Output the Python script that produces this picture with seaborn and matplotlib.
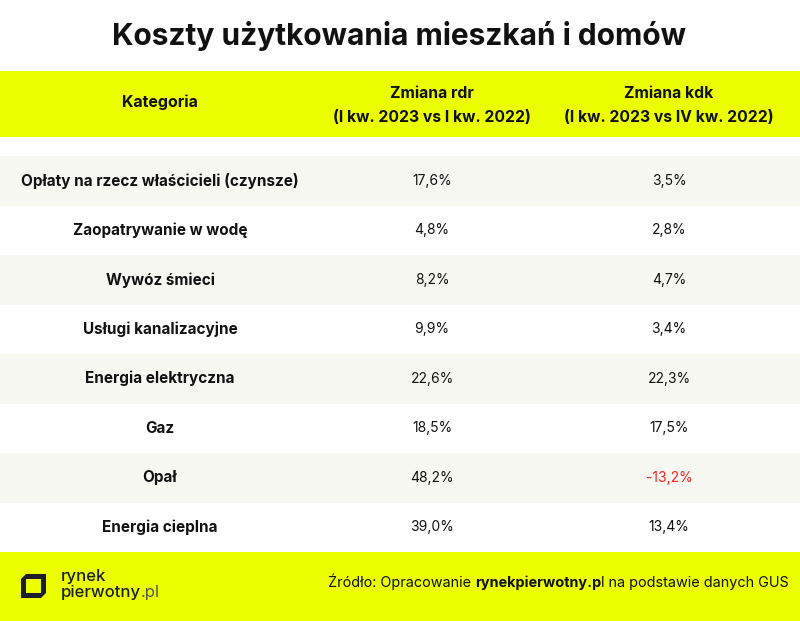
import numpy as np
import pandas as pd
import seaborn as sns
import matplotlib.pyplot as plt
from matplotlib.colors import ListedColormap
from matplotlib.patches import Rectangle, Polygon

# data
title = 'Koszty użytkowania mieszkań i domów'
header = ['Kategoria', 'Zmiana rdr\n(I kw. 2023 vs I kw. 2022)',
          'Zmiana kdk\n(I kw. 2023 vs IV kw. 2022)']
categories = ['Opłaty na rzecz właścicieli (czynsze)', 'Zaopatrywanie w wodę',
              'Wywóz śmieci', 'Usługi kanalizacyjne', 'Energia elektryczna',
              'Gaz', 'Opał', 'Energia cieplna']
change_rdr = [17.6, 4.8, 8.2, 9.9, 22.6, 18.5, 48.2, 39.0]
change_kdk = [3.5, 2.8, 4.7, 3.4, 22.3, 17.5, -13.2, 13.4]
source_pre = 'Źródło: Opracowanie '
source_bold = 'rynekpierwotny.p'
source_post = 'l na podstawie danych GUS'

YELLOW = '#ebff00'
STRIPE = '#f8f8f3'
DARK = '#111111'
RED = '#ff1f1f'
W, H = 800, 621


def fmt(v):
    return f'{v:.1f}'.replace('.', ',') + '%'


sns.set_theme(style='white')
plt.rcParams['font.family'] = ['Inter', 'DejaVu Sans']

fig = plt.figure(figsize=(8, 6.21), dpi=100)
fig.patch.set_facecolor('white')

# background bands (pixel coords)
bg = fig.add_axes([0, 0, 1, 1])
bg.set_xlim(0, W)
bg.set_ylim(H, 0)
bg.axis('off')
bg.add_patch(Rectangle((0, 71), W, 66, color=YELLOW, lw=0))
bg.add_patch(Rectangle((0, 552), W, H - 552, color=YELLOW, lw=0))

bg.text(W / 2 - 1, 36, title, ha='center', va='center', fontsize=21.5,
        fontweight='bold', color=DARK)

col_x = [160, 432, 669]
bg.text(col_x[0], 102, header[0], ha='center', va='center', fontsize=11.5,
        fontweight='bold', color=DARK)
for x, h in zip(col_x[1:], header[1:]):
    bg.text(x, 106, h, ha='center', va='center', fontsize=11.3,
            fontweight='bold', color=DARK, linespacing=1.75)

# table body: striped rows via heatmap
body_top, body_bot = 156, 552
tab = fig.add_axes([0, 1 - body_bot / H, 1, (body_bot - body_top) / H])
stripes = pd.DataFrame({'s': [i % 2 for i in range(len(categories))]},
                       index=categories)
sns.heatmap(stripes, ax=tab, cmap=ListedColormap([STRIPE, 'white']),
            cbar=False, xticklabels=False, yticklabels=False, linewidths=0)
tab.set_xlabel('')
tab.set_ylabel('')

for i, (cat, r, k) in enumerate(zip(categories, change_rdr, change_kdk)):
    y = i + 0.5
    tab.text(col_x[0] / W, y, cat, ha='center', va='center', fontsize=11,
             fontweight='bold', color=DARK)
    tab.text(col_x[1] / W, y, fmt(r), ha='center', va='center', fontsize=10,
             color=DARK)
    tab.text(col_x[2] / W, y, fmt(k), ha='center', va='center', fontsize=10,
             color=RED if k < 0 else DARK)

# footer: source, right aligned, built from three pieces
fs = 10.4
t3 = bg.text(789, 583, source_post, ha='right', va='center', fontsize=fs,
             color=DARK)
t2 = bg.annotate(source_bold, xy=(0, 0), xycoords=t3, ha='right', va='bottom',
                 fontsize=fs, fontweight='bold', color=DARK)
bg.annotate(source_pre, xy=(0, 0), xycoords=t2, ha='right', va='bottom',
            fontsize=fs, color=DARK)

# logo
logo_outer = [(21, 579), (26, 574), (46, 574), (46, 593), (41, 598), (21, 598)]
logo_inner = [(26, 579), (41, 579), (41, 593), (26, 593)]
bg.add_patch(Polygon(logo_outer, closed=True, color='#1e1e2a', lw=0))
bg.add_patch(Polygon(logo_inner, closed=True, color=YELLOW, lw=0))
bg.text(61, 577, 'rynek', ha='left', va='center', fontsize=12,
        fontweight='medium', color='#1e1e2a')
p1 = bg.text(61, 592, 'pierwotny', ha='left', va='center', fontsize=12,
             fontweight='medium', color='#1e1e2a')
bg.annotate('.pl', xy=(1, 0), xycoords=p1, ha='left', va='bottom',
            fontsize=12, color='#555555')

fig.savefig('out.png', dpi=100, facecolor='white')
